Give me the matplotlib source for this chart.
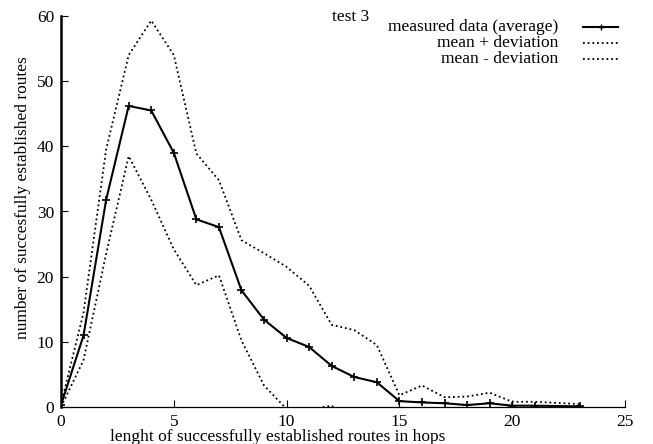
import matplotlib
matplotlib.use("Agg")
import matplotlib.pyplot as plt

plt.rcParams['font.family'] = ['Liberation Serif', 'DejaVu Serif']

hops = [0, 1, 2, 3, 4, 5, 6, 7, 8, 9, 10, 11, 12, 13, 14, 15, 16, 17, 18, 19, 20, 21, 23]
mean = [0.3, 11.0, 31.8, 46.2, 45.5, 39.0, 28.8, 27.6, 17.9, 13.4, 10.6, 9.2, 6.3, 4.6, 3.8,
        0.9, 0.7, 0.57, 0.3, 0.57, 0.2, 0.2, 0.1]
upper = [0.4, 14.5, 39.5, 54.0, 59.3, 54.0, 38.9, 34.8, 25.6, 23.6, 21.5, 18.6, 12.6, 11.8, 9.5,
         1.8, 3.3, 1.5, 1.6, 2.2, 0.8, 0.8, 0.45]
lower = [0.0, 7.2, 23.5, 38.5, 31.8, 24.2, 18.7, 20.2, 10.2, 3.3, -0.3, -0.4, 0.2, -2.7, -2.0,
         -0.1, -1.9, -0.4, -1.0, -1.1, -0.4, -0.4, -0.25]

title = "test 3"
legend_labels = ["measured data (average)", "mean + deviation", "mean - deviation"]
xlabel = "lenght of successfully established routes in hops"
ylabel = "number of succesfully established routes"
xticks = [0, 5, 10, 15, 20, 25]
yticks = [0, 10, 20, 30, 40, 50, 60]

fig = plt.figure(figsize=(6.53, 4.44), dpi=100)
ax = fig.add_axes([61/653, 37/444, 564/653, 391/444])

ax.plot(hops, mean, color='black', lw=1.5, marker='+', ms=6, mew=1.2)
ax.plot(hops, upper, color='black', lw=1.3, ls=(0, (1, 1.6)))
ax.plot(hops, lower, color='black', lw=1.3, ls=(0, (1, 1.6)))

ax.set_xlim(0, 25)
ax.set_ylim(0, 60)
ax.set_xticks(xticks)
ax.set_yticks(yticks)
ax.tick_params(direction='in', length=5, width=0.8, labelsize=12.5, pad=5)
for s in ['top', 'right']:
    ax.spines[s].set_visible(False)
ax.spines['left'].set_linewidth(1.8)
ax.spines['bottom'].set_linewidth(0.9)

# legend drawn manually (right aligned text, sample on the right)
rows_y = [0.972, 0.931, 0.890]
styles = [dict(ls='-', lw=1.5, marker='+', ms=5, mew=1.0, markevery=[1]),
          dict(ls=(0, (1, 1.6)), lw=1.3),
          dict(ls=(0, (1, 1.6)), lw=1.3)]
for lab, yy, st in zip(legend_labels, rows_y, styles):
    ax.text(0.881, yy, lab, transform=ax.transAxes, ha='right', va='center', fontsize=12.5)
    ax.plot([0.926, 0.957, 0.988], [yy, yy, yy], transform=ax.transAxes, color='black',
            clip_on=False, **st)

fig.text(0.508, 0.962, title, ha='left', va='center', fontsize=12.5)
fig.text(0.426, 0.016, xlabel, ha='center', va='center', fontsize=12.5)
fig.text(0.035, 0.556, ylabel, ha='center', va='center', rotation=90, fontsize=12.5)

fig.savefig("out.png", dpi=100)
